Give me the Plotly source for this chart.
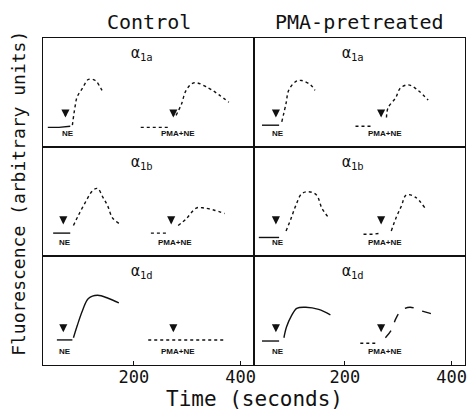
import plotly.graph_objects as go
from plotly.subplots import make_subplots

# ---------------- data ----------------
col_titles = ["Control", "PMA-pretreated"]
row_labels = ["α<sub>1a</sub>", "α<sub>1b</sub>", "α<sub>1d</sub>"]
x_tick_vals = [200, 400]
x_tick_text = ["200", "400"]

# Each panel: baseline before NE, NE response, baseline before PMA+NE, PMA+NE response
# (time in s, fluorescence in arbitrary units 0-1)
# Row 1 (alpha1a)
ctl_a_bl1_t = [39, 60, 81];        ctl_a_bl1_y = [0.18, 0.18, 0.19]
ctl_a_ne_t = [85, 90, 94, 104, 115, 128, 138, 143]
ctl_a_ne_y = [0.20, 0.37, 0.46, 0.54, 0.62, 0.61, 0.54, 0.50]
ctl_a_bl2_t = [213, 240, 264];     ctl_a_bl2_y = [0.18, 0.18, 0.18]
ctl_a_pma_t = [279, 289, 298, 313, 340, 359, 378]
ctl_a_pma_y = [0.29, 0.39, 0.52, 0.59, 0.54, 0.48, 0.41]

pma_a_bl1_t = [45, 62, 77];        pma_a_bl1_y = [0.20, 0.20, 0.20]
pma_a_ne_t = [82, 90, 95, 108, 119, 136, 144]
pma_a_ne_y = [0.23, 0.40, 0.52, 0.60, 0.61, 0.57, 0.52]
pma_a_bl2_t = [220, 235, 250];     pma_a_bl2_y = [0.19, 0.19, 0.19]
pma_a_pma_t = [278, 281, 295, 304, 319, 337, 356]
pma_a_pma_y = [0.27, 0.36, 0.45, 0.54, 0.57, 0.52, 0.43]

# Row 2 (alpha1b)
ctl_b_bl1_t = [49, 65, 81];        ctl_b_bl1_y = [0.21, 0.21, 0.21]
ctl_b_ne_t = [87, 96, 109, 123, 132, 142, 151, 160, 172]
ctl_b_ne_y = [0.28, 0.37, 0.49, 0.60, 0.62, 0.54, 0.46, 0.35, 0.30]
ctl_b_bl2_t = [232, 248, 264];     ctl_b_bl2_y = [0.21, 0.21, 0.21]
ctl_b_pma_t = [283, 298, 317, 332, 351, 370]
ctl_b_pma_y = [0.28, 0.34, 0.44, 0.44, 0.42, 0.39]

pma_b_bl1_t = [39, 58, 77];        pma_b_bl1_y = [0.17, 0.17, 0.17]
pma_b_ne_t = [90, 99, 108, 119, 132, 147, 157, 170]
pma_b_ne_y = [0.23, 0.34, 0.46, 0.57, 0.59, 0.56, 0.44, 0.35]
pma_b_bl2_t = [235, 252, 268];     pma_b_bl2_y = [0.20, 0.20, 0.21]
pma_b_pma_t = [287, 296, 306, 315, 332, 350]
pma_b_pma_y = [0.23, 0.35, 0.46, 0.56, 0.54, 0.44]

# Row 3 (alpha1d)
ctl_d_bl1_t = [56, 70, 85];        ctl_d_bl1_y = [0.23, 0.23, 0.23]
ctl_d_ne_t = [87, 94, 104, 115, 132, 153, 172]
ctl_d_ne_y = [0.25, 0.36, 0.50, 0.61, 0.64, 0.61, 0.57]
ctl_d_bl2_t = [227, 260, 300, 340, 370]
ctl_d_bl2_y = [0.23, 0.23, 0.23, 0.23, 0.23]
ctl_d_pma_t = []
ctl_d_pma_y = []

pma_d_bl1_t = [45, 62, 77];        pma_d_bl1_y = [0.22, 0.22, 0.22]
pma_d_ne_t = [86, 91, 100, 110, 127, 151, 173]
pma_d_ne_y = [0.25, 0.35, 0.45, 0.52, 0.53, 0.51, 0.46]
pma_d_bl2_t = [229, 243, 257];     pma_d_bl2_y = [0.20, 0.20, 0.20]
pma_d_pma_t = [276, 287, 296, 306, 322, 341, 362, 371]
pma_d_pma_y = [0.25, 0.32, 0.43, 0.50, 0.53, 0.50, 0.47, 0.45]

# Agonist addition times (arrows) [NE, PMA+NE] per panel, and arrow tip level
ctl_arrow_t = [[72, 274], [68, 270], [68, 274]]
pma_arrow_t = [[71, 268], [71, 268], [71, 268]]
arrow_tip_y = [[0.27, 0.27], [0.29, 0.29], [0.30, 0.30]]
ne_labels = ["NE", "PMA+NE"]

panels = {
    (1, 1): (ctl_a_bl1_t, ctl_a_bl1_y, ctl_a_ne_t, ctl_a_ne_y, ctl_a_bl2_t, ctl_a_bl2_y, ctl_a_pma_t, ctl_a_pma_y),
    (1, 2): (pma_a_bl1_t, pma_a_bl1_y, pma_a_ne_t, pma_a_ne_y, pma_a_bl2_t, pma_a_bl2_y, pma_a_pma_t, pma_a_pma_y),
    (2, 1): (ctl_b_bl1_t, ctl_b_bl1_y, ctl_b_ne_t, ctl_b_ne_y, ctl_b_bl2_t, ctl_b_bl2_y, ctl_b_pma_t, ctl_b_pma_y),
    (2, 2): (pma_b_bl1_t, pma_b_bl1_y, pma_b_ne_t, pma_b_ne_y, pma_b_bl2_t, pma_b_bl2_y, pma_b_pma_t, pma_b_pma_y),
    (3, 1): (ctl_d_bl1_t, ctl_d_bl1_y, ctl_d_ne_t, ctl_d_ne_y, ctl_d_bl2_t, ctl_d_bl2_y, ctl_d_pma_t, ctl_d_pma_y),
    (3, 2): (pma_d_bl1_t, pma_d_bl1_y, pma_d_ne_t, pma_d_ne_y, pma_d_bl2_t, pma_d_bl2_y, pma_d_pma_t, pma_d_pma_y),
}
arrows = {1: ctl_arrow_t, 2: pma_arrow_t}

# ---------------- figure ----------------
fig = make_subplots(rows=3, cols=2, horizontal_spacing=0, vertical_spacing=0)

mono = "DejaVu Sans Mono"
ink = "#111111"

for (r, c), (b1t, b1y, nt, ny, b2t, b2y, pt, py) in panels.items():
    ne_dash = "solid" if r == 3 else "dot"
    pma_dash = "dash" if r == 3 else "dot"
    fig.add_trace(go.Scatter(x=b1t, y=b1y, mode="lines", line=dict(color=ink, width=1.4, dash="solid")), row=r, col=c)
    fig.add_trace(go.Scatter(x=nt, y=ny, mode="lines", line=dict(color=ink, width=1.4, dash=ne_dash, shape="spline")), row=r, col=c)
    fig.add_trace(go.Scatter(x=b2t, y=b2y, mode="lines", line=dict(color=ink, width=1.4, dash="3px,3px")), row=r, col=c)
    if pt:
        fig.add_trace(go.Scatter(x=pt, y=py, mode="lines", line=dict(color=ink, width=1.4, dash=pma_dash, shape="spline")), row=r, col=c)

    idx = (r - 1) * 2 + c
    xref = "x" if idx == 1 else f"x{idx}"
    yref = "y" if idx == 1 else f"y{idx}"
    for k in range(2):
        t = arrows[c][r - 1][k]
        tip = arrow_tip_y[r - 1][k]
        fig.add_annotation(x=t, y=tip, xref=xref, yref=yref, ax=0, ay=-9,
                           showarrow=True, arrowhead=2, arrowsize=0.9, arrowwidth=1.8,
                           arrowcolor=ink, text="")
        fig.add_annotation(x=t + (8 if k == 1 else 4), y=0.12, xref=xref, yref=yref,
                           xanchor="center", yanchor="middle",
                           text=f"<b>{ne_labels[k]}</b>", showarrow=False,
                           font=dict(family="Liberation Sans", size=8, color=ink))
    # receptor subtype label
    fig.add_annotation(x=0.47, y=0.86, xref=f"{xref} domain", yref=f"{yref} domain",
                       xanchor="center", yanchor="middle",
                       text=row_labels[r - 1], showarrow=False,
                       font=dict(family=mono, size=15, color=ink))

for r in range(1, 4):
    for c in range(1, 3):
        fig.update_xaxes(range=[30, 425], showline=True, mirror=True, linecolor=ink, linewidth=1.2,
                         showgrid=False, zeroline=False,
                         tickvals=x_tick_vals, ticktext=x_tick_text,
                         showticklabels=(r == 3), ticks="inside" if r == 3 else "", ticklen=4,
                         tickcolor=ink, ticklabelstandoff=-4,
                         tickfont=dict(family=mono, size=17, color=ink), row=r, col=c)
        fig.update_yaxes(range=[0, 1], showline=True, mirror=True, linecolor=ink, linewidth=1.2,
                         showgrid=False, zeroline=False, showticklabels=False, ticks="",
                         row=r, col=c)

# column titles
for i, title in enumerate(col_titles):
    fig.add_annotation(x=0.25 + 0.5 * i, y=1, xref="paper", yref="paper",
                       xanchor="center", yanchor="bottom", yshift=2,
                       text=title, showarrow=False, font=dict(family=mono, size=20, color=ink))

fig.add_annotation(x=0.5, y=0, xref="paper", yref="paper", xanchor="center", yanchor="top", yshift=-20,
                   text="Time (seconds)", showarrow=False, font=dict(family=mono, size=21, color=ink))
fig.add_annotation(x=0, y=0.525, xref="paper", yref="paper", xanchor="right", yanchor="middle", xshift=-12,
                   text="Fluorescence (arbitrary units)", textangle=-90, showarrow=False,
                   font=dict(family=mono, size=18, color=ink))

fig.update_layout(width=469, height=416, margin=dict(l=43, r=2, t=38, b=51),
                  paper_bgcolor="white", plot_bgcolor="white", showlegend=False)

fig.write_html("out.html")
